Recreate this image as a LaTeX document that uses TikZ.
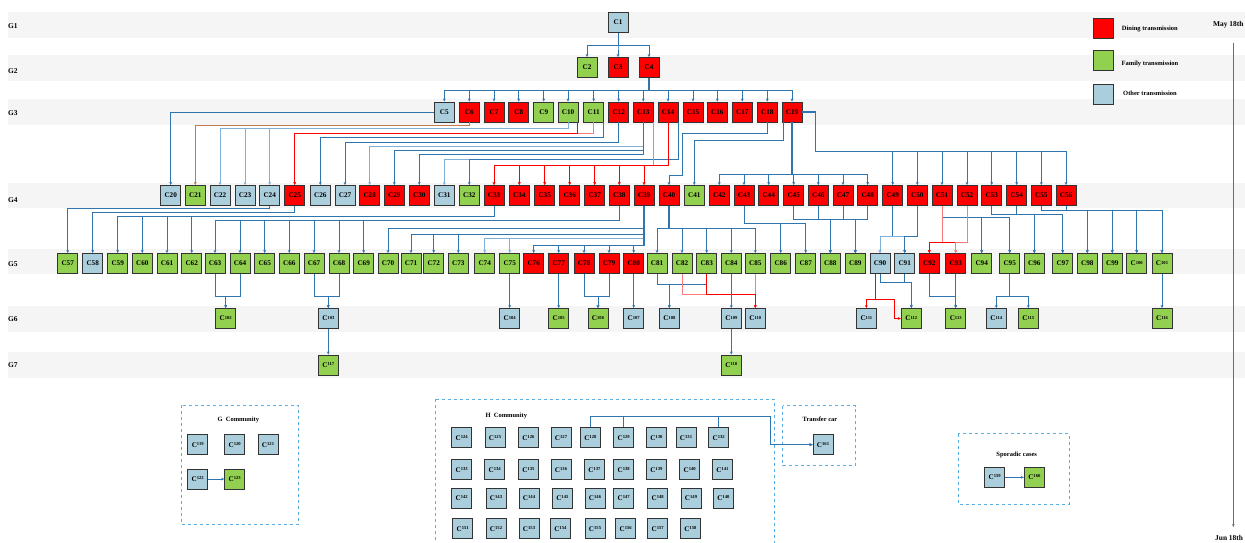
\documentclass[tikz,border=0pt]{standalone}
\usepackage{fontspec}
\setmainfont{Liberation Serif}
\usetikzlibrary{arrows.meta}
\definecolor{cR}{HTML}{FF0000}
\definecolor{cG}{HTML}{92D050}
\definecolor{cB}{HTML}{ABCEDD}
\definecolor{eblue}{HTML}{2F75B0}
\definecolor{elight}{HTML}{7FB0D8}
\definecolor{ered}{HTML}{FF0000}
\definecolor{elred}{HTML}{FF7A7A}
\definecolor{ebrown}{HTML}{C27A4E}
\definecolor{bandc}{HTML}{F5F5F5}
\definecolor{dashc}{HTML}{5AAEE8}
\definecolor{tlc}{HTML}{5C6F86}
\newcommand\cs[1]{C\raisebox{.55ex}{\fontsize{4.6}{4.6}\selectfont #1}}
\newcommand\bus[4][eb]{\draw[#1] (#2) -- (#2 |- 0,#4) -| (#3);}
\begin{document}
\begin{tikzpicture}[x=1pt,y=-1pt,
 bx/.style={draw=black!80,line width=0.75pt,minimum size=20pt,inner sep=0pt,font=\bfseries\fontsize{7.2}{8}\selectfont},
 glab/.style={anchor=west,inner sep=0pt,font=\bfseries\fontsize{7.4}{8}\selectfont},
 ttl/.style={inner sep=0pt,font=\bfseries\fontsize{6.5}{7}\selectfont},
 arr/.style={-{Stealth[length=3.2pt,width=2.8pt]}},
 eb/.style={arr,draw=eblue,line width=0.8pt},
 el/.style={arr,draw=elight,line width=0.8pt},
 ebt/.style={arr,draw=eblue,line width=1.2pt},
 er/.style={arr,draw=ered,line width=0.85pt},
 erl/.style={arr,draw=elred,line width=0.85pt},
 ebr/.style={arr,draw=ebrown,line width=0.85pt},
 dbox/.style={draw=dashc,dashed,line width=0.9pt},
 tl/.style={draw=tlc,line width=0.8pt,-{Stealth[length=3pt,width=2.6pt]}}
]
\useasboundingbox (0,0) rectangle (1245,542);
% bands
\foreach \a/\b in {12/38,55/81,99/125,183/208,249/274,306/332,352/378}
  {\fill[bandc] (8,\a) rectangle (1245,\b);}
\foreach \i/\y in {1/26,2/71,3/112.7,4/200,5/264,6/319.3,7/365}
  {\node[glab] (G\i) at (8,\y) {G\i};}
% G1, G2
\node[bx,fill=cB] (C1) at (618,22.5) {C1};
\node[bx,fill=cG] (C2) at (587,67.5) {C2};
\node[bx,fill=cR] (C3) at (618,67.5) {C3};
\node[bx,fill=cR] (C4) at (649,67.5) {C4};
% G3
\foreach \n/\x/\s in {5/444.3/B,6/469.3/R,7/494/R,8/518.7/R,9/543.7/G,10/568/G,11/593.7/G,12/618.7/R,13/643.3/R,14/668/R,15/693/R,16/717.3/R,17/742.3/R,18/767.3/R,19/792/R}
  {\node[bx,fill=c\s] (C\n) at (\x,112) {C\n};}
% G4
\foreach \n/\x/\s in {20/170.7/B,21/195.3/G,22/220/B,23/245/B,24/269.7/B,25/294.7/R,26/320.3/B,27/345/B,28/369.7/R,29/394.3/R,30/419.3/R,31/444.3/B,32/469.3/G,33/494/R,34/519.3/R,35/544.7/R,36/569.7/R,37/594.7/R,38/619.3/R,39/644/R,40/669/R,41/694.3/G,42/719.3/R,43/744/R,44/768.7/R,45/793.7/R,46/818.3/R,47/843/R,48/867.7/R,49/892.7/R,50/917.3/R,51/942/R,52/967/R,53/991.7/R,54/1016.7/R,55/1041.3/R,56/1066/R}
  {\node[bx,fill=c\s] (C\n) at (\x,195.5) {C\n};}
% G5
\foreach \n/\x/\s in {57/67.7/G,58/92.7/B,59/117.7/G,60/142.3/G,61/167/G,62/191.7/G,63/215/G,64/240/G,65/264.7/G,66/289.3/G,67/314/G,68/339/G,69/363.7/G,70/388/G,71/411/G,72/433.7/G,73/458.3/G,74/484.7/G,75/509.7/G,76/533.7/R,77/558.7/R,78/584/R,79/609/R,80/633.7/R,81/657/G,82/682/G,83/706.7/G,84/731.3/G,85/755.3/G,86/780.7/G,87/805.7/G,88/830.3/G,89/855.3/G,90/880/B,91/904.7/B,92/929.3/R,93/955.7/R,94/981.7/G,95/1009.7/G,96/1034.3/G,97/1062.7/G,98/1087.3/G,99/1112.3/G}
  {\node[bx,fill=c\s] (C\n) at (\x,263.5) {C\n};}
\node[bx,fill=cG] (C100) at (1136.7,263.5) {\cs{100}};
\node[bx,fill=cG] (C101) at (1162,263.5) {\cs{101}};
% G6
\foreach \n/\x/\s in {102/225.7/G,103/328.3/B,104/509.7/B,105/558.7/G,106/598/G,107/633.7/B,108/669.3/B,109/731.3/B,110/755.3/B,111/866.3/B,112/911.3/G,113/955.7/G,114/996.3/B,115/1028.3/G,116/1162/G}
  {\node[bx,fill=c\s] (C\n) at (\x,318.5) {\cs{\n}};}
% G7
\node[bx,fill=cG] (C117) at (328.3,365) {\cs{117}};
\node[bx,fill=cG] (C118) at (731.3,365) {\cs{118}};
% G community
\draw[dbox] (181,405) rectangle (298.3,524.3);
\node[ttl] (gct) at (238.3,420) {G\ \ Community};
\foreach \n/\x/\y/\s in {119/197.7/444.7/B,120/234.7/444.7/B,121/268/444.7/B,122/197.7/479/B,123/234.7/479/G}
  {\node[bx,fill=c\s] (C\n) at (\x,\y) {\cs{\n}};}
% H community
\draw[dbox] (435.7,399) rectangle (774.3,548);
\node[ttl] (hct) at (506.3,416) {H\ \ Community};
\foreach \n/\x in {124/461.7,125/495,126/528.3,127/561,128/590.3,129/623.7,130/656.3,131/686,132/718.7}
  {\node[bx,fill=cB] (C\n) at (\x,437.7) {\cs{\n}};}
\foreach \n/\x in {133/461.7,134/494.7,135/528.3,136/561,137/594.3,138/623.7,139/656.3,140/689.7,141/722.3}
  {\node[bx,fill=cB] (C\n) at (\x,469.7) {\cs{\n}};}
\foreach \n/\x in {142/461.7,143/496,144/529,145/562.3,146/595,147/623.7,148/657.7,149/691}
  {\node[bx,fill=cB] (C\n) at (\x,498.3) {\cs{\n}};}
\node[bx,fill=cB] (C150) at (723.3,498.3) {\cs{140}};
\foreach \n/\x in {151/462.7,152/496,153/529,154/560.3,155/595,156/625.7,157/657.7,158/690.3}
  {\node[bx,fill=cB] (C\n) at (\x,528.7) {\cs{\n}};}
% Transfer car
\draw[dbox] (782.7,405.7) rectangle (855.3,465.7);
\node[ttl] (tct) at (820,419.3) {Transfer car};
\node[bx,fill=cB] (C161) at (823,444.7) {\cs{161}};
% Sporadic
\draw[dbox] (958.3,433.7) rectangle (1069,504);
\node[ttl] (spt) at (1016.7,455.3) {Sporadic cases};
\node[bx,fill=cB] (C159) at (994.7,477.3) {\cs{159}};
\node[bx,fill=cG] (C160) at (1034.3,477.3) {\cs{160}};
% legend
\node[bx,fill=cR] (lgR) at (1103,28) {};
\node[bx,fill=cG] (lgG) at (1103,60) {};
\node[bx,fill=cB] (lgB) at (1103,94.5) {};
\node[ttl,anchor=west] (lgRt) at (1121.7,28.5) {Dining transmission};
\node[ttl,anchor=west] (lgGt) at (1121.5,63.5) {Family transmission};
\node[ttl,anchor=west] (lgBt) at (1123,93.3) {Other transmission};
% timeline
\node[glab] (may) at (1213,25) {May 18th};
\node[glab] (jun) at (1215,538) {Jun 18th};
\coordinate (tlA) at (1233.3,43);
\coordinate (tlB) at (1233.3,527);
\draw[tl] (tlA) -- (tlB);
% ---------- edges ----------
\foreach \t in {2,3,4} {\bus{C1.south}{C\t.north}{45}}
\foreach \t in {5,...,19} {\bus{C4.south}{C\t.north}{90}}
\draw[ebt,-] (C4.south) -- (C4.south |- 0,90);
% G3 -> G4
\draw[eb] (C5.west) -| (C20.north);
\bus[ebr]{C6.south}{C21.north}{125.5}
\foreach \t in {22,23,24} {\bus[el]{C10.south}{C\t.north}{128.5}}
\coordinate (C10r) at ([xshift=9pt]C10.south);
\coordinate (C11r) at ([xshift=10pt]C11.south);
\coordinate (C13r) at ([xshift=10pt]C13.south);
\coordinate (C14r) at ([xshift=10pt]C14.south);
\coordinate (C19l) at ([xshift=-8.5pt]C19.south);
\bus[erl]{C11.south}{C25.north}{133.3}
\bus[er]{C10r}{C25.north}{133.3}
\bus{C11r}{C26.north}{137.7}
\bus{C12.south}{C27.north}{142.7}
\bus[el]{C13.south}{C28.north}{146.7}
\bus{C13.south}{C29.north}{150.7}
\bus{C13.south}{C30.north}{154.3}
\bus[el]{C14r}{C31.north}{159}
\bus{C14r}{C32.north}{159}
\foreach \t in {33,...,39} {\bus[erl]{C13r}{C\t.north}{165}}
\foreach \t in {33,...,39} {\bus[er]{C14.south}{C\t.north}{165}}
\draw[eb] (C18.south) |- (682.7,133.3) -- (682.7,175) -| (C40.north);
\bus{C19l}{C41.north}{140.7}
\foreach \t in {42,...,48} {\bus{C19.south}{C\t.north}{174.3}}
\draw[ebt,-] (C19.south) -- (C19.south |- 0,174.3);
\foreach \t in {49,...,56} {\draw[eb] (C19.east) -| (815.7,151.7) -| (C\t.north);}
\draw[ebt,-] (C19.east) -| (815.7,151.7) -- (892.7,151.7);
% G4 -> G5
\bus{C24.south}{C57.north}{208.3}
\bus{C25.south}{C58.north}{212.3}
\foreach \t in {59,...,62} {\bus{C33.south}{C\t.north}{216}}
\foreach \t in {63,...,69} {\bus{C38.south}{C\t.north}{220.7}}
\bus{C39.south}{C70.north}{228.7}
\foreach \t in {71,72,73} {\bus{C39.south}{C\t.north}{234.3}}
\foreach \t in {74,75} {\bus[el]{C39.south}{C\t.north}{238.3}}
\foreach \t in {76,...,80} {\bus{C39.south}{C\t.north}{245}}
\draw[ebt,-] (C39.south) -- (C39.south |- 0,245);
\foreach \t in {81,...,85} {\bus{C40.south}{C\t.north}{228.3}}
\draw[ebt,-] (C40.south) -- (C40.south |- 0,228.3);
\foreach \t in {86,87} {\bus{C43.south}{C\t.north}{223.3}}
\foreach \s in {45,46,47,48} {\bus{C\s.south}{C88.north}{219} \bus{C\s.south}{C89.north}{219}}
\foreach \s in {49,50} {\bus[el]{C\s.south}{C90.north}{236.7} \bus{C\s.south}{C91.north}{236.7}}
\foreach \s in {51,52} {\bus{C\s.south}{C94.north}{217.3} \bus{C\s.south}{C95.north}{217.3}}
\foreach \s in {51,52} {\bus[er]{C\s.south}{C92.north}{242.3} \bus[erl]{C\s.south}{C93.north}{242.3}}
\foreach \s in {53,54} {\bus{C\s.south}{C96.north}{214.3} \bus{C\s.south}{C97.north}{214.3}}
\foreach \s in {55,56} {\foreach \t in {98,...,101} {\bus{C\s.south}{C\t.north}{210.7}}}
% G5 -> G6
\foreach \s in {63,64} {\bus{C\s.south}{C102.north}{296.7}}
\foreach \s in {67,68} {\bus{C\s.south}{C103.north}{296.7}}
\draw[eb] (C75.south) -- (C104.north);
\draw[eb] (C77.south) -- (C105.north);
\foreach \s in {78,79} {\bus{C\s.south}{C106.north}{296.7}}
\draw[eb] (C80.south) -- (C107.north);
\foreach \s in {81,83} {\bus{C\s.south}{C108.north}{284}}
\bus[erl]{C82.south}{C110.north}{294}
\bus[erl]{C85.south}{C110.north}{294}
\bus[er]{C83.south}{C110.north}{294}
\draw[eb] (C84.south) -- (C109.north);
\coordinate (C90l) at ([xshift=-5pt]C90.south);
\bus[er]{C90l}{C111.north}{299.3}
\draw[er] (C90l) |- (894.3,299.3) |- (C112.west);
\foreach \s in {90,91} {\bus{C\s.south}{C112.north}{282}}
\bus{C92.south}{C113.north}{296.7}
\draw[eb] (C93.south) -- (C113.north);
\foreach \t in {114,115} {\bus{C95.south}{C\t.north}{296.7}}
\draw[eb] (C101.south) -- (C116.north);
% G6 -> G7
\draw[eb] (C103.south) -- (C117.north);
\draw[eb] (C109.south) -- (C118.north);
% communities
\draw[eb] (C122.east) -- (C123.west);
\draw[eb] (C159.east) -- (C160.west);
\foreach \s in {128,129,132} {\draw[eb] (C\s.north) |- (770.7,416) |- (C161.west);}
\end{tikzpicture}
\end{document}
